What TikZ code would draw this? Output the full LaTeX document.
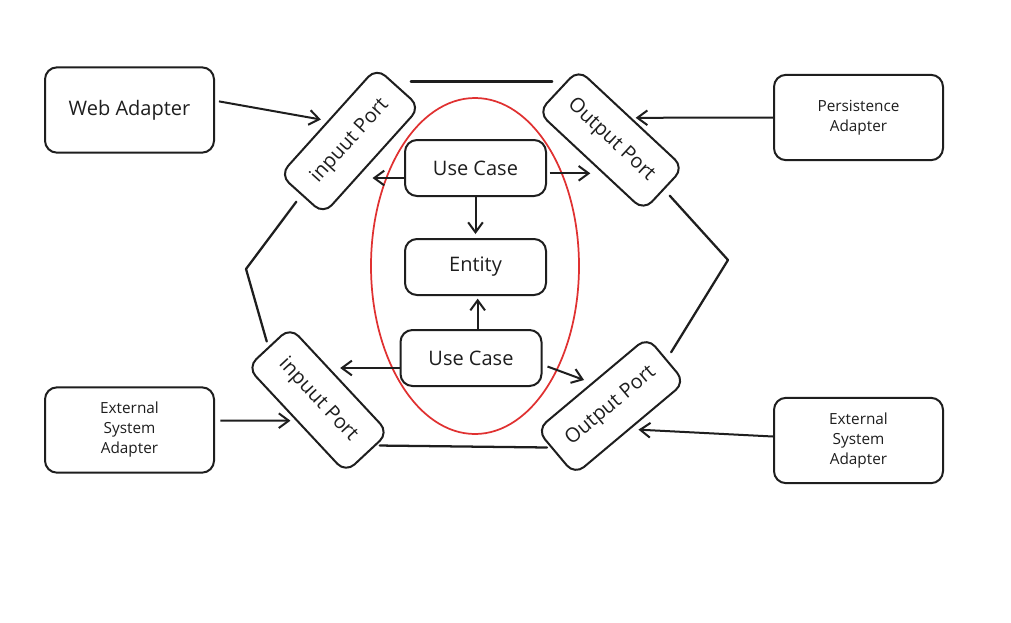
\documentclass[tikz,border=0pt]{standalone}
\usepackage{fontspec}
\setmainfont{Open Sans}
\usetikzlibrary{arrows.meta,calc,shapes.geometric}
\definecolor{ink}{HTML}{1E1E1E}
\definecolor{redline}{HTML}{E03131}
\begin{document}
\begin{tikzpicture}[x=0.75pt,y=-0.75pt,
  box/.style={draw=ink,line width=1.5pt,rounded corners=9pt,align=center,inner sep=0pt,text=ink},
  bigbox/.style={box,minimum width=126.75pt,minimum height=64pt},
  corebox/.style={box,minimum width=105.75pt,minimum height=42pt,font=\fontsize{15}{17}\selectfont},
  portbox/.style={box,minimum width=108pt,minimum height=44pt,font=\fontsize{15}{17}\selectfont},
  small/.style={font=\fontsize{11.5}{15}\selectfont},
  large/.style={font=\fontsize{15}{17}\selectfont},
  arr/.style={draw=ink,line width=1.5pt,-{Straight Barb[length=7.5pt,width=11pt]}},
  hex/.style={draw=ink,line width=1.7pt,line cap=round}
]
\useasboundingbox (0,0) rectangle (1011,622);
\fill[white] (0,0) rectangle (1011,622);

% adapters
\node[bigbox,large] (wa) at (129.5,110) {Web Adapter};
\node[bigbox,small] (ea1) at (129.5,430) {External\\System\\Adapter};
\node[bigbox,small] (pa) at (858.5,117.5) {Persistence\\Adapter};
\node[bigbox,small] (ea2) at (858.5,440.5) {External\\System\\Adapter};

% core
\node[draw=redline,line width=1.3pt,ellipse,minimum width=156pt,minimum height=252pt,inner sep=0pt] (core) at (475,266) {};
\node[corebox] (uc1) at (475.5,168) {Use Case};
\node[corebox] (ent) at (475.5,267) {Entity};
\node[corebox] (uc2) at (471,358) {Use Case};

% ports
\node[portbox,rotate=48] (ip1) at (350,141) {inpuut Port};
\node[portbox,rotate=-43] (op1) at (611,140) {Output Port};
\node[portbox,rotate=-47] (ip2) at (318,400) {inpuut Port};
\node[portbox,rotate=40] (op2) at (611,406) {Output Port};

% hexagon
\coordinate (vL) at (246,269);
\coordinate (vR) at (728,260);
\draw[hex,shorten <=9pt,shorten >=4pt] ([yshift=4pt]ip1.east) -- ([yshift=4pt]ip1.east -| op1.west);
\draw[hex,shorten <=9pt,shorten >=6pt] ([yshift=6pt]ip2.east) -- ([yshift=4pt]op2.west);
\draw[hex,shorten <=6pt] (ip1.west) -- (vL);
\draw[hex,shorten >=4pt] (vL) -- (ip2.west);
\draw[hex,shorten <=6pt] (op1.east) -- (vR);
\draw[hex,shorten >=6pt] (vR) -- (op2.east);

% arrows
\draw[arr,shorten <=3pt,shorten >=5pt] ([yshift=7pt]wa.east) -- (ip1.north);
\draw[arr,shorten <=4pt,shorten >=4pt] ([yshift=7pt]ea1.east) -- (ip2.south);
\draw[arr,shorten >=3pt] (pa.west) -- (op1.north);
\draw[arr,shorten >=6pt] ([yshift=3pt]ea2.west) -- (op2.south);
\draw[arr] ([yshift=-7.5pt]uc1.west) -- ([yshift=-7.5pt]uc1.west -| ip1.south);
\draw[arr,shorten <=2pt] ([yshift=-4pt]uc1.east) -- ([yshift=-4pt]uc1.east -| op1.south);
\draw[arr,shorten >=3pt] (uc1.south) -- (ent.north);
\draw[arr,shorten >=2pt] ([xshift=5pt]uc2.north) -- ([xshift=5pt]uc2.north |- ent.south);
\draw[arr] ([yshift=-7.5pt]uc2.west) -- ([yshift=-7.5pt]uc2.west -| ip2.north);
\draw[arr,shorten <=4pt,shorten >=6pt] ([yshift=-5pt]uc2.east) -- (op2.north);
\end{tikzpicture}
\end{document}
